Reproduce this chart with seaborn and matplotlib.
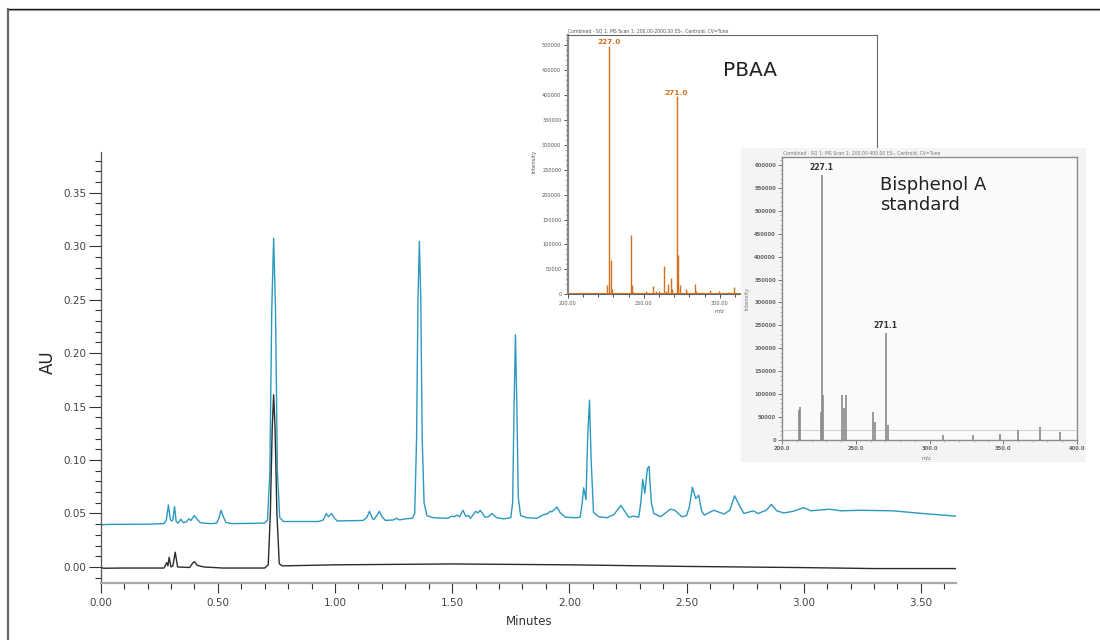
import pandas as pd
import seaborn as sns
import matplotlib.pyplot as plt
from matplotlib.lines import Line2D
from matplotlib.patches import Rectangle
from matplotlib.ticker import MultipleLocator, FormatStrFormatter

# ------------------------------------------------
# DATA
# ------------------------------------------------
# PBAA sample trace (blue), minutes / AU
blue_t = [0.000, 0.008, 0.030, 0.200, 0.270, 0.280, 0.289, 0.297, 0.303, 0.308,
          0.315, 0.322, 0.330, 0.342, 0.352, 0.365, 0.376, 0.385, 0.399, 0.412,
          0.425, 0.440, 0.470, 0.495, 0.505, 0.514, 0.523, 0.535, 0.560, 0.700,
          0.712, 0.722, 0.730, 0.738, 0.746, 0.754, 0.764, 0.780, 0.850, 0.930,
          0.950, 0.962, 0.972, 0.985, 0.998, 1.010, 1.120, 1.135, 1.147, 1.160,
          1.167, 1.178, 1.189, 1.200, 1.215, 1.250, 1.262, 1.275, 1.300, 1.330,
          1.340, 1.348, 1.354, 1.360, 1.366, 1.372, 1.380, 1.392, 1.420, 1.480,
          1.499, 1.510, 1.520, 1.532, 1.546, 1.558, 1.570, 1.578, 1.600, 1.610,
          1.620, 1.640, 1.655, 1.669, 1.690, 1.720, 1.750, 1.758, 1.764, 1.770,
          1.776, 1.782, 1.792, 1.820, 1.862, 1.890, 1.905, 1.918, 1.925, 1.947,
          1.960, 1.983, 2.030, 2.046, 2.055, 2.061, 2.071, 2.078, 2.086, 2.093,
          2.103, 2.125, 2.160, 2.190, 2.220, 2.253, 2.275, 2.296, 2.305, 2.313,
          2.322, 2.333, 2.340, 2.350, 2.360, 2.390, 2.431, 2.450, 2.480, 2.500,
          2.512, 2.525, 2.539, 2.552, 2.565, 2.576, 2.616, 2.660, 2.685, 2.705,
          2.727, 2.745, 2.785, 2.805, 2.840, 2.863, 2.885, 2.915, 2.955, 3.000,
          3.030, 3.110, 3.160, 3.240, 3.380, 3.506, 3.650]
blue_au = [0.0405, 0.0395, 0.0398, 0.0400, 0.0405, 0.0440, 0.0580, 0.0445, 0.0430, 0.0440,
           0.0565, 0.0425, 0.0410, 0.0446, 0.0415, 0.0420, 0.0450, 0.0435, 0.0480, 0.0445,
           0.0415, 0.0410, 0.0405, 0.0410, 0.0460, 0.0530, 0.0470, 0.0415, 0.0405, 0.0410,
           0.0440, 0.0900, 0.2400, 0.3075, 0.2400, 0.0900, 0.0460, 0.0425, 0.0425, 0.0425,
           0.0440, 0.0500, 0.0470, 0.0500, 0.0455, 0.0430, 0.0435, 0.0460, 0.0520, 0.0450,
           0.0445, 0.0480, 0.0520, 0.0470, 0.0435, 0.0440, 0.0455, 0.0440, 0.0450, 0.0455,
           0.0500, 0.1200, 0.2500, 0.3045, 0.2500, 0.1200, 0.0600, 0.0480, 0.0460, 0.0455,
           0.0475, 0.0470, 0.0485, 0.0470, 0.0530, 0.0475, 0.0480, 0.0455, 0.0520, 0.0505,
           0.0530, 0.0465, 0.0470, 0.0500, 0.0460, 0.0450, 0.0460, 0.0600, 0.1500, 0.2170,
           0.1500, 0.0650, 0.0480, 0.0460, 0.0455, 0.0490, 0.0495, 0.0520, 0.0515, 0.0560,
           0.0510, 0.0465, 0.0460, 0.0465, 0.0600, 0.0740, 0.0630, 0.1200, 0.1560, 0.1000,
           0.0510, 0.0470, 0.0460, 0.0490, 0.0575, 0.0465, 0.0475, 0.0465, 0.0600, 0.0820,
           0.0690, 0.0920, 0.0940, 0.0600, 0.0500, 0.0470, 0.0540, 0.0530, 0.0470, 0.0480,
           0.0560, 0.0745, 0.0640, 0.0670, 0.0520, 0.0485, 0.0530, 0.0495, 0.0530, 0.0665,
           0.0570, 0.0500, 0.0525, 0.0500, 0.0530, 0.0585, 0.0525, 0.0505, 0.0520, 0.0555,
           0.0525, 0.0540, 0.0525, 0.0530, 0.0525, 0.0500, 0.0475]

# Bisphenol A standard trace (black)
black_t = [0.000, 0.010, 0.100, 0.270, 0.282, 0.287, 0.292, 0.300, 0.308, 0.318,
           0.328, 0.380, 0.392, 0.400, 0.412, 0.440, 0.520, 0.700, 0.715, 0.724,
           0.732, 0.738, 0.744, 0.752, 0.762, 0.775, 1.000, 1.500, 2.000, 2.500,
           3.000, 3.300, 3.650]
black_au = [0.0005, -0.0012, -0.0010, -0.0010, 0.0040, 0.0010, 0.0090, 0.0000, 0.0010, 0.0138,
            0.0000, -0.0005, 0.0035, 0.0050, 0.0015, 0.0000, -0.0010, -0.0010, 0.0020, 0.0500,
            0.1300, 0.1610, 0.1300, 0.0500, 0.0030, 0.0010, 0.0020, 0.0028, 0.0020, 0.0005,
            -0.0006, -0.0015, -0.0015]

# PBAA mass spectrum (orange)
pbaa_mz = [225.9, 227.2, 228.5, 229.1, 241.5, 242.2, 242.8, 251.3, 255.9, 258.0,
           260.0, 263.0, 264.3, 265.7, 267.6, 268.5, 271.5, 272.2, 273.5, 277.4,
           278.7, 283.9, 284.6, 288.5, 293.7, 299.6, 306.1, 309.3]
pbaa_int = [18000, 497000, 68000, 11000, 118700, 18000, 4500, 6500, 16000, 6500,
            6500, 56700, 6500, 20700, 32000, 10000, 396700, 78700, 18000, 10000,
            4700, 20700, 6500, 4700, 8700, 6500, 4700, 14000]

# Bisphenol A standard mass spectrum (grey)
bpa_mz = [211.2, 212.0, 226.0, 226.7, 227.9, 240.3, 241.7, 243.3, 261.8, 263.0,
          270.2, 271.6, 309.4, 329.8, 347.9, 360.4, 375.1, 388.7]
bpa_int = [65000, 72700, 62000, 578000, 98000, 98000, 70000, 98000, 62000, 40000,
           233000, 33000, 11000, 11000, 12500, 22000, 29000, 18000]

W, H = 1100, 640


def box(l, t, r, b):
    return [l / W, 1 - b / H, (r - l) / W, (b - t) / H]


sns.set_theme(style="ticks")
plt.rcParams['font.family'] = ['DejaVu Sans']

fig = plt.figure(figsize=(11, 6.4), dpi=100)

# ------------------------------------------------
# MAIN CHROMATOGRAM
# ------------------------------------------------
ax = fig.add_axes(box(100.7, 152, 956, 583))
df_blue = pd.DataFrame({"Minutes": blue_t, "AU": blue_au})
df_black = pd.DataFrame({"Minutes": black_t, "AU": black_au})
sns.lineplot(data=df_blue, x="Minutes", y="AU", ax=ax, color="#2b98c0", lw=1.0,
             estimator=None, sort=False)
sns.lineplot(data=df_black, x="Minutes", y="AU", ax=ax, color="#2b2b2b", lw=1.0,
             estimator=None, sort=False)
ax.set_xlim(0, 3.65)
ax.set_ylim(-0.015, 0.388)
ax.xaxis.set_major_locator(MultipleLocator(0.5))
ax.xaxis.set_minor_locator(MultipleLocator(0.1))
ax.yaxis.set_major_locator(MultipleLocator(0.05))
ax.yaxis.set_minor_locator(MultipleLocator(0.01))
ax.xaxis.set_major_formatter(FormatStrFormatter("%.2f"))
ax.yaxis.set_major_formatter(FormatStrFormatter("%.2f"))
ax.spines["top"].set_visible(False)
ax.spines["right"].set_visible(False)
ax.spines["left"].set_color("#555555")
ax.spines["left"].set_linewidth(0.9)
ax.spines["bottom"].set_color("#a8a8a8")
ax.spines["bottom"].set_linewidth(1.6)
ax.tick_params(axis="y", which="major", length=8.5, width=0.8, color="#333333",
               labelsize=7.5, labelcolor="#444444", pad=2)
ax.tick_params(axis="y", which="minor", length=4.5, width=0.8, color="#333333")
ax.tick_params(axis="x", which="major", length=7, width=0.8, color="#333333",
               labelsize=7.5, labelcolor="#444444", pad=4)
ax.tick_params(axis="x", which="minor", length=4, width=0.8, color="#333333")
ax.set_xlabel("")
ax.set_ylabel("")
fig.text(48 / W, 1 - 362 / H, "AU", rotation=90, ha="center", va="center",
         fontsize=12, color="#222222")
fig.text(528.7 / W, 1 - 621.7 / H, "Minutes", ha="center", va="center",
         fontsize=8.5, color="#333333")

# ------------------------------------------------
# PBAA SPECTRUM INSET
# ------------------------------------------------
orange = "#d2701d"
ax2 = fig.add_axes(box(567.7, 35, 876.7, 294.3))
ax2.set_zorder(3)
ax2.set_facecolor("white")
ax2.vlines(pbaa_mz, 0, pbaa_int, color=orange, lw=1.0)
ax2.axhline(0, color=orange, lw=2.2)
ax2.set_xlim(200, 403)
ax2.set_ylim(0, 520000)
ax2.xaxis.set_major_locator(MultipleLocator(50))
ax2.xaxis.set_minor_locator(MultipleLocator(10))
ax2.yaxis.set_major_locator(MultipleLocator(50000))
ax2.yaxis.set_minor_locator(MultipleLocator(10000))
ax2.xaxis.set_major_formatter(FormatStrFormatter("%.2f"))
ax2.yaxis.set_major_formatter(FormatStrFormatter("%d"))
for s in ["top", "right", "bottom"]:
    ax2.spines[s].set_color("#666666")
    ax2.spines[s].set_linewidth(0.8)
ax2.spines["left"].set_color("#888888")
ax2.spines["left"].set_linewidth(1.6)
ax2.tick_params(which="major", length=3, width=0.6, color="#333333",
                labelsize=3.6, labelcolor="#555555", pad=1.5)
ax2.tick_params(which="minor", length=1.8, width=0.6, color="#333333")
ax2.text(227.2, 501500, "227.0", color=orange, fontsize=5.3, fontweight="bold",
         ha="center", va="baseline")
ax2.text(271.5, 400500, "271.0", color=orange, fontsize=5.3, fontweight="bold",
         ha="center", va="baseline")
fig.text(567.7 / W, 1 - 33.5 / H,
         "Combined - SQ 1: MS Scan 1: 200.00-2000.00 ES-, Centroid, CV=Tune",
         fontsize=3.3, color="#555555", ha="left", va="bottom", zorder=6)
fig.text(534 / W, 1 - 161.7 / H, "Intensity", rotation=90, fontsize=3.8,
         color="#555555", ha="center", va="center")
fig.text(720 / W, 1 - 311 / H, "m/z", fontsize=3.8, style="italic",
         color="#555555", ha="center", va="center")
fig.text(750 / W, 1 - 70 / H, "PBAA", fontsize=14.5, color="#222222",
         ha="center", va="center", zorder=6)

# ------------------------------------------------
# BISPHENOL A STANDARD SPECTRUM INSET (scanned look)
# ------------------------------------------------
fig.add_artist(Rectangle((741 / W, 1 - 462 / H), 345 / W, 314 / H,
                         transform=fig.transFigure, facecolor="#f4f4f4",
                         edgecolor="none", zorder=4))
ax3 = fig.add_axes(box(782.3, 156.7, 1076.7, 440))
ax3.set_zorder(5)
ax3.set_facecolor("#fafafa")
ax3.axhline(21800, color="#d0d0d0", lw=0.7)
ax3.vlines(bpa_mz, 0, bpa_int, color="#8a8a8a", lw=1.2)
ax3.set_xlim(200, 400)
ax3.set_ylim(0, 618000)
ax3.xaxis.set_major_locator(MultipleLocator(50))
ax3.xaxis.set_minor_locator(MultipleLocator(10))
ax3.yaxis.set_major_locator(MultipleLocator(50000))
ax3.yaxis.set_minor_locator(MultipleLocator(10000))
ax3.xaxis.set_major_formatter(FormatStrFormatter("%.1f"))
ax3.yaxis.set_major_formatter(FormatStrFormatter("%d"))
for s in ax3.spines.values():
    s.set_color("#8c8c8c")
    s.set_linewidth(1.0)
ax3.tick_params(which="major", length=3, width=0.7, color="#777777",
                labelsize=3.8, labelcolor="#666666", pad=1.5)
ax3.tick_params(which="minor", length=1.5, width=0.5, color="#999999")
for lab in ax3.get_xticklabels() + ax3.get_yticklabels():
    lab.set_fontweight("bold")
ax3.text(226.7, 585000, "227.1", color="#333333", fontsize=5.5, fontweight="bold",
         ha="center", va="bottom")
ax3.text(270.2, 240000, "271.1", color="#333333", fontsize=5.5, fontweight="bold",
         ha="center", va="bottom")
fig.text(783 / W, 1 - 155.5 / H,
         "Combined - SQ 1: MS Scan 1: 200.00-400.00 ES-, Centroid, CV=Tune",
         fontsize=3.3, color="#777777", ha="left", va="bottom", zorder=7)
fig.text(747 / W, 1 - 298 / H, "Intensity", rotation=90, fontsize=3.8,
         color="#777777", ha="center", va="center", zorder=7)
fig.text(926.7 / W, 1 - 458 / H, "m/z", fontsize=3.8, color="#777777",
         ha="center", va="center", zorder=7)
fig.text(880 / W, 1 - 176 / H, "Bisphenol A\nstandard", fontsize=13,
         color="#222222", ha="left", va="top", linespacing=1.15, zorder=7)

# ------------------------------------------------
# OUTER FRAME LINES
# ------------------------------------------------
fig.add_artist(Line2D([7 / W, 1], [1 - 9.3 / H, 1 - 9.3 / H], color="#111111",
                      lw=1.0, transform=fig.transFigure))
fig.add_artist(Line2D([7 / W, 1], [1 - 10.4 / H, 1 - 10.4 / H], color="#999999",
                      lw=0.8, transform=fig.transFigure))
fig.add_artist(Line2D([7.8 / W, 7.8 / W], [1 - 9.3 / H, 0], color="#666666",
                      lw=1.6, transform=fig.transFigure))

fig.savefig("out.png", dpi=100)
